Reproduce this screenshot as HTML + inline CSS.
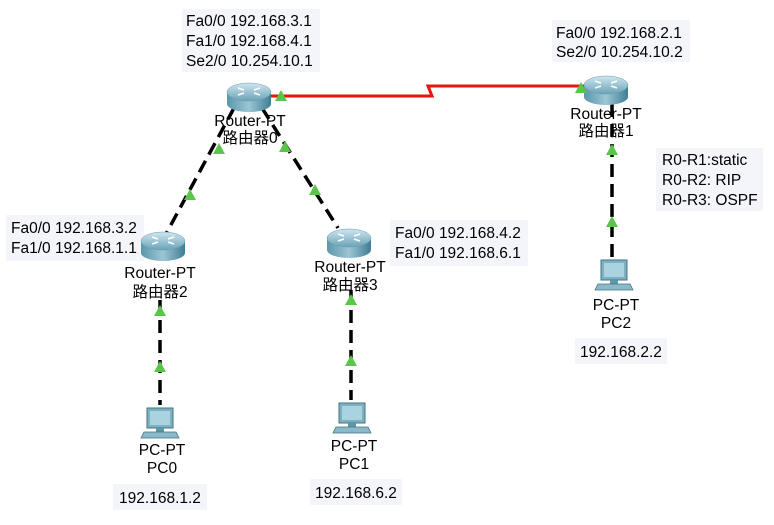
<!DOCTYPE html>
<html><head><meta charset="utf-8"><style>
body{margin:0;background:#fff;width:774px;height:520px;overflow:hidden;font-family:"Liberation Sans","Noto Sans CJK SC",sans-serif;}
</style></head><body>
<svg width="774" height="520" xmlns="http://www.w3.org/2000/svg" font-family="Liberation Sans, Noto Sans CJK SC, sans-serif" font-size="15.5" fill="#000">
<defs>
<linearGradient id="rt" x1="0" y1="0" x2="0" y2="1"><stop offset="0" stop-color="#cfe6ee"/><stop offset="1" stop-color="#6aa3b8"/></linearGradient>
<linearGradient id="rs" x1="0" y1="0" x2="1" y2="0"><stop offset="0" stop-color="#5a96ab"/><stop offset="0.5" stop-color="#9cc6d4"/><stop offset="1" stop-color="#3f7d93"/></linearGradient>
<g id="router">
<path d="M-22,-3 L-22,9 A22,8 0 0 0 22,9 L22,-3 Z" fill="url(#rs)"/>
<ellipse cx="0" cy="-3" rx="22" ry="9" fill="url(#rt)" stroke="#6a9aab" stroke-width="0.5"/>
<path d="M-11,-7 l6,2 M11,-7 l-6,2 M-11,0 l6,-2 M11,0 l-6,-2" stroke="#fff" stroke-width="1.6"/>
</g>
<g id="pc">
<rect x="-13" y="-14" width="26" height="20" fill="#7fb0c0" stroke="#3f7386"/>
<rect x="-10" y="-11" width="20" height="14" fill="#a9d3df"/>
<rect x="-4" y="6" width="8" height="4" fill="#5f97aa"/>
<path d="M-16,10 L16,10 L19,16 L-19,16 Z" fill="#8bb9c8" stroke="#3f7386" stroke-width="0.8"/>
</g>
<path id="tri" d="M-6,5 L6,5 L0,-6 Z" fill="#5bc44a"/>
</defs>
<!-- note backgrounds -->
<rect x="182" y="9" width="138" height="63" fill="#f3f5fa"/>
<rect x="552" y="20" width="138" height="42" fill="#f3f5fa"/>
<rect x="656" y="148" width="107" height="63" fill="#f3f5fa"/>
<rect x="6" y="215" width="138" height="46" fill="#f3f5fa"/>
<rect x="390" y="220" width="138" height="46" fill="#f3f5fa"/>
<rect x="113" y="484" width="94" height="26" fill="#f3f5fa"/>
<rect x="310" y="479" width="92" height="26" fill="#f3f5fa"/>
<rect x="575" y="338" width="92" height="26" fill="#f3f5fa"/>
<!-- links -->
<polyline points="266,96 432,96 428,86 590,86" fill="none" stroke="#e8140e" stroke-width="3"/>
<g stroke="#000" stroke-width="3.5" stroke-dasharray="13,7" fill="none">
<line x1="234" y1="108" x2="166" y2="234"/>
<line x1="262" y1="108" x2="338" y2="228"/>
<line x1="160" y1="300" x2="160" y2="405"/>
<line x1="351" y1="290" x2="351" y2="400"/>
<line x1="612" y1="104" x2="612" y2="262"/>
</g>
<!-- devices -->
<use href="#router" x="249" y="95"/>
<use href="#router" x="606" y="88"/>
<use href="#router" x="163" y="244"/>
<use href="#router" x="349" y="241"/>
<use href="#pc" x="160" y="422"/>
<use href="#pc" x="352" y="417"/>
<use href="#pc" x="614" y="274"/>
<!-- triangles -->
<use href="#tri" x="281" y="96"/>
<use href="#tri" x="581" y="88"/>
<use href="#tri" x="219" y="149"/>
<use href="#tri" x="285" y="147"/>
<use href="#tri" x="190" y="195"/>
<use href="#tri" x="315" y="190"/>
<use href="#tri" x="160" y="311"/>
<use href="#tri" x="160" y="367"/>
<use href="#tri" x="351" y="300"/>
<use href="#tri" x="351" y="361"/>
<use href="#tri" x="612" y="150"/>
<use href="#tri" x="612" y="222"/>
<!-- labels -->
<g>
<text x="186" y="26">Fa0/0 192.168.3.1</text>
<text x="186" y="46">Fa1/0 192.168.4.1</text>
<text x="186" y="66">Se2/0 10.254.10.1</text>
<text x="556" y="38">Fa0/0 192.168.2.1</text>
<text x="556" y="57">Se2/0 10.254.10.2</text>
<text x="662" y="165">R0-R1:static</text>
<text x="662" y="185">R0-R2: RIP</text>
<text x="662" y="205">R0-R3: OSPF</text>
<text x="11" y="233">Fa0/0 192.168.3.2</text>
<text x="11" y="253">Fa1/0 192.168.1.1</text>
<text x="395" y="238">Fa0/0 192.168.4.2</text>
<text x="395" y="258">Fa1/0 192.168.6.1</text>
</g>
<g text-anchor="middle">
<text x="250" y="126">Router-PT</text>
<text x="250" y="143">路由器0</text>
<text x="606" y="119">Router-PT</text>
<text x="606" y="136">路由器1</text>
<text x="160" y="278">Router-PT</text>
<text x="160" y="297">路由器2</text>
<text x="350" y="272">Router-PT</text>
<text x="350" y="290">路由器3</text>
<text x="162" y="455">PC-PT</text>
<text x="162" y="473">PC0</text>
<text x="354" y="451">PC-PT</text>
<text x="354" y="469">PC1</text>
<text x="616" y="310">PC-PT</text>
<text x="616" y="328">PC2</text>
<text x="160" y="503">192.168.1.2</text>
<text x="356" y="498">192.168.6.2</text>
<text x="621" y="357">192.168.2.2</text>
</g>
</svg>
</body></html>
